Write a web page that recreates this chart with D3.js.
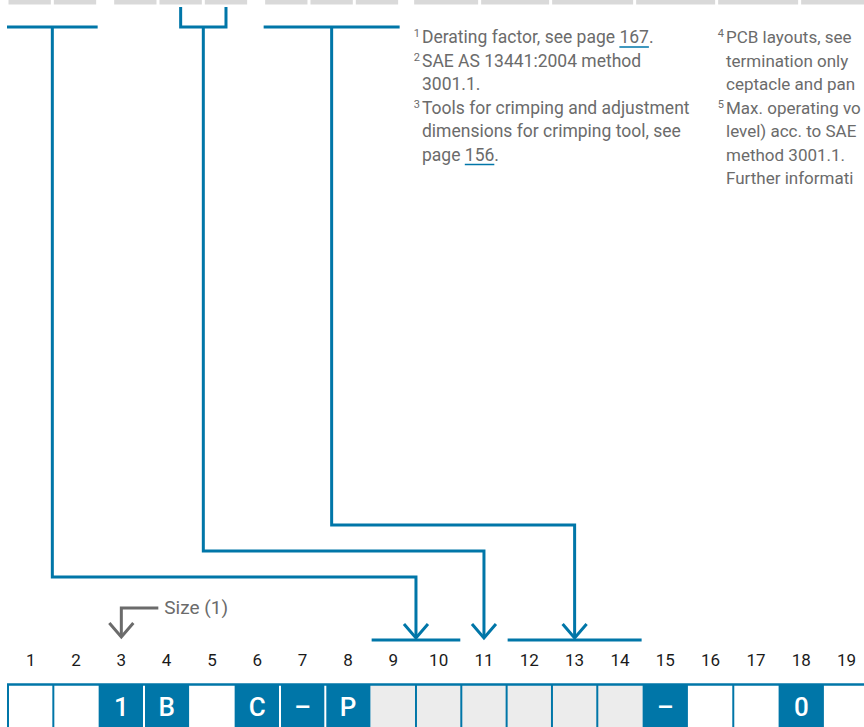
<!DOCTYPE html>
<html>
<head>
<meta charset="utf-8">
<title>Ordering code</title>
<script src="https://cdn.jsdelivr.net/npm/d3@7"></script>
<style>
  html, body { margin: 0; padding: 0; background: #fff; overflow: hidden; }
  svg { display: block; font-family: Roboto, "Noto Sans", sans-serif; }
</style>
</head>
<body>
<svg id="svg"></svg>
<script>
// ---- data ----
var positions = d3.range(1, 20);
var codes = ["", "", "1", "B", "", "C", "\u2013", "P", "", "", "", "", "", "", "\u2013", "", "", "0", ""];
var kinds = ["open", "open", "fixed", "fixed", "open", "fixed", "fixed", "fixed",
             "pick", "pick", "pick", "pick", "pick", "pick", "fixed", "open", "open", "fixed", "open"];

// upper table (cut off): groups of narrow columns, then wide columns
var topGroups = [2, 3, 3];
var topWideCols = 6;

// connectors: source columns in upper table -> target positions in code
var linkSource = [[1, 2], [4, 5], [6, 8]];
var linkShape = ["bar", "fork", "bar"];
var linkTarget = [[9, 10], [11, 11], [12, 14]];
var linkLevel = [0, 1, 2];

var sizeLabel = "Size (1)";
var sizePos = 3;

// footnotes, as far as they are visible (right column runs off the page)
var notesLeft = [
  {mark: "1", lines: ["Derating factor, see page |167|."]},
  {mark: "2", lines: ["SAE AS 13441:2004 method", "3001.1."]},
  {mark: "3", lines: ["Tools for crimping and adjustment", "dimensions for crimping tool, see", "page |156|."]}
];
var notesRight = [
  {mark: "4", lines: ["PCB layouts, see", "termination only", "ceptacle and pan"]},
  {mark: "5", lines: ["Max. operating vo", "level) acc. to SAE", "method 3001.1.", "Further informati"]}
];

// ---- layout ----
var width = 864, height = 727;
var blue = "#0076a8", grey = "#6b6b6b", stripGrey = "#d9d9d9", cellGrey = "#ececec";

var svg = d3.select("#svg").attr("width", width).attr("height", height);

var x = d3.scaleLinear().domain([0, 19]).range([8, 8 + 19 * 45.33]);
var cellW = x(1) - x(0);
var levelY = d3.scaleLinear().domain([0, 2]).range([577, 525]);

// upper table column edges
var topEdges = [];
(function () {
  var cx = 7, gap = 15;
  topGroups.forEach(function (n, g) {
    for (var i = 0; i < n; i++) { topEdges.push([cx, cx + cellW]); cx += cellW; }
    cx += gap - (g === topGroups.length - 1 ? 2 : 0);
  });
  var wide = [67, 71, 84, 82, 83, 80];
  for (var i = 0; i < topWideCols; i++) { topEdges.push([cx, cx + wide[i]]); cx += wide[i]; }
})();

svg.append("g").selectAll("rect")
  .data(topEdges)
  .enter().append("rect")
  .attr("x", function (d) { return d[0] + 1.5; })
  .attr("y", 0)
  .attr("width", function (d) { return d[1] - d[0] - 3; })
  .attr("height", 4.5)
  .attr("fill", stripGrey);

function topCenter(c) { var e = topEdges[c - 1]; return (e[0] + e[1]) / 2; }

// connectors
var barY = 27, forkTop = 7, targetY = 640, tipY = 638;
var links = svg.append("g")
  .attr("fill", "none")
  .attr("stroke", blue)
  .attr("stroke-width", 3);

linkSource.forEach(function (src, i) {
  var shape = linkShape[i];
  var x0, x1, path = d3.path();
  if (shape === "bar") {
    x0 = topEdges[src[0] - 1][0];
    x1 = topEdges[src[1] - 1][1];
    path.moveTo(x0, barY); path.lineTo(x1, barY);
  } else {
    x0 = topCenter(src[0]);
    x1 = topCenter(src[1]);
    path.moveTo(x0, forkTop); path.lineTo(x0, barY); path.lineTo(x1, barY); path.lineTo(x1, forkTop);
  }
  links.append("path").attr("d", path.toString()).attr("stroke-linejoin", "miter").attr("stroke-linecap", "butt");

  var sx = (x0 + x1) / 2;
  var tgt = linkTarget[i];
  var tx = (x(tgt[0] - 1) + x(tgt[1])) / 2;
  var ey = levelY(linkLevel[i]);
  var p2 = d3.path();
  p2.moveTo(sx, barY); p2.lineTo(sx, ey); p2.lineTo(tx, ey); p2.lineTo(tx, tipY);
  links.append("path").attr("d", p2.toString()).attr("stroke-linejoin", "miter");

  // arrow head
  links.append("path")
    .attr("d", "M" + (tx - 12) + "," + (tipY - 14) + "L" + tx + "," + tipY + "L" + (tx + 12) + "," + (tipY - 14));

  if (tgt[1] > tgt[0]) {
    links.append("line")
      .attr("x1", x(tgt[0] - 1) + 1).attr("x2", x(tgt[1]) - 1)
      .attr("y1", targetY).attr("y2", targetY);
  }
});

// size arrow
var sx3 = x(sizePos - 0.5);
var sizeG = svg.append("g");
sizeG.append("path")
  .attr("d", "M" + (sx3 + 37) + ",608L" + sx3 + ",608L" + sx3 + ",637")
  .attr("fill", "none").attr("stroke", grey).attr("stroke-width", 3);
sizeG.append("path")
  .attr("d", "M" + (sx3 - 12) + ",623L" + sx3 + ",637L" + (sx3 + 12) + ",623")
  .attr("fill", "none").attr("stroke", grey).attr("stroke-width", 3);
sizeG.append("text")
  .attr("x", sx3 + 43).attr("y", 614)
  .attr("font-size", 19).attr("fill", grey)
  .text(sizeLabel);

// position numbers
svg.append("g").selectAll("text")
  .data(positions)
  .enter().append("text")
  .attr("x", function (d) { return x(d - 0.5); })
  .attr("y", 666)
  .attr("text-anchor", "middle")
  .attr("font-size", 17)
  .attr("fill", "#1a1a1a")
  .text(function (d) { return d; });

// code cells
var cellTop = 685;
var fills = {open: "#ffffff", fixed: blue, pick: cellGrey};
var cells = svg.append("g");
cells.selectAll("rect")
  .data(positions)
  .enter().append("rect")
  .attr("x", function (d) { return x(d - 1); })
  .attr("y", cellTop)
  .attr("width", cellW)
  .attr("height", height - cellTop)
  .attr("fill", function (d) { return fills[kinds[d - 1]]; });

// separators
cells.selectAll("line.sep")
  .data(positions)
  .enter().append("line")
  .attr("class", "sep")
  .attr("x1", function (d) { return x(d - 1); })
  .attr("x2", function (d) { return x(d - 1); })
  .attr("y1", cellTop).attr("y2", height)
  .attr("stroke-width", 2)
  .attr("stroke", function (d) {
    var k = kinds[d - 1], prev = d > 1 ? kinds[d - 2] : "open";
    if (k === "fixed" && prev === "fixed") return "#ffffff";
    if (k === "fixed" || prev === "fixed") return "none";
    return blue;
  });

cells.append("line")
  .attr("x1", x(0) - 1).attr("x2", width)
  .attr("y1", cellTop - 0.5).attr("y2", cellTop - 0.5)
  .attr("stroke", blue).attr("stroke-width", 2.5);

cells.selectAll("text")
  .data(positions.filter(function (d) { return codes[d - 1] !== ""; }))
  .enter().append("text")
  .attr("x", function (d) { return x(d - 0.5); })
  .attr("y", 716)
  .attr("text-anchor", "middle")
  .attr("font-size", 26)
  .attr("font-weight", 500)
  .attr("fill", "#ffffff")
  .text(function (d) { return codes[d - 1]; });

// footnotes
var lineH = 23.5;
function drawNotes(notes, x0, y0, fs) {
  var g = svg.append("g").attr("fill", grey).attr("font-size", fs);
  var row = 0;
  notes.forEach(function (n) {
    g.append("text")
      .attr("x", x0 + 8).attr("y", y0 + row * lineH - 6)
      .attr("text-anchor", "end")
      .attr("font-size", 11)
      .text(n.mark);
    n.lines.forEach(function (ln) {
      var parts = ln.split("|");
      var t = g.append("text").attr("x", x0 + 10).attr("y", y0 + row * lineH);
      parts.forEach(function (p) { t.append("tspan").text(p); });
      if (parts.length > 1) {
        var node = t.node();
        var before = parts[0].length;
        var start = node.getSubStringLength(0, before);
        var len = node.getSubStringLength(before, parts[1].length);
        g.append("line")
          .attr("x1", x0 + 10 + start).attr("x2", x0 + 10 + start + len)
          .attr("y1", y0 + row * lineH + 4).attr("y2", y0 + row * lineH + 4)
          .attr("stroke", blue).attr("stroke-width", 1.5);
      }
      row++;
    });
  });
}
drawNotes(notesLeft, 412, 43, 17.5);
drawNotes(notesRight, 716, 43, 17);
</script>
</body>
</html>
